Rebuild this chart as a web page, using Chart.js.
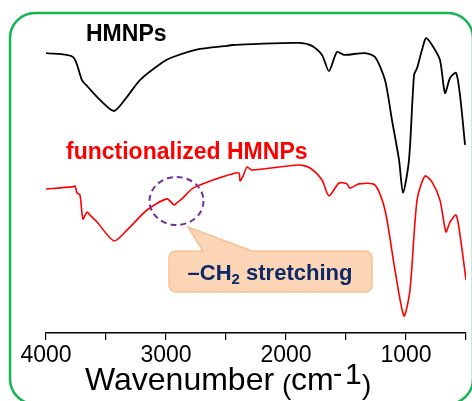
<!DOCTYPE html>
<html>
<head>
<meta charset="utf-8">
<script src="https://cdn.jsdelivr.net/npm/chart.js@4"></script>
<style>
  html, body { margin: 0; padding: 0; background: #fff; }
  #wrap { width: 472px; height: 401px; }
</style>
</head>
<body>
<div id="wrap"><canvas id="grafico"></canvas></div>
<script>
// espectros FTIR (transmitancia en unidades arbitrarias)
const numOndaHMNP = [4000, 3775, 3700, 3650, 3550, 3433, 3325, 3217, 3025, 2942, 2717, 2492, 2450, 2283, 1892, 1783, 1700, 1642, 1575, 1517, 1342, 1258, 1175, 1117, 1058, 1025, 975, 933, 908, 867, 833, 783, 717, 675, 633, 583, 550, 508];
const transHMNP = [93.3, 92.0, 84.3, 82.0, 77.7, 74.0, 78.7, 84.3, 90.3, 92.0, 94.7, 95.7, 96.0, 96.3, 96.7, 95.7, 92.7, 87.3, 93.7, 92.7, 93.3, 92.0, 84.3, 71.0, 57.7, 46.7, 57.7, 86.0, 88.3, 94.3, 98.3, 96.0, 91.0, 80.0, 85.0, 86.7, 79.3, 62.7];

const numOndaFunc = [4000, 3783, 3758, 3742, 3717, 3692, 3658, 3633, 3575, 3433, 3325, 3158, 2992, 2933, 2900, 2867, 2775, 2608, 2450, 2392, 2383, 2358, 2325, 2283, 1892, 1800, 1700, 1642, 1558, 1492, 1467, 1392, 1258, 1175, 1092, 1017, 967, 908, 842, 783, 717, 667, 633, 583, 550, 500];
const transFunc = [48.0, 48.7, 49.0, 46.7, 46.0, 38.0, 40.3, 39.3, 37.0, 30.7, 34.3, 41.0, 44.7, 42.7, 43.7, 44.7, 48.3, 51.0, 53.0, 53.3, 50.7, 52.3, 55.3, 54.3, 56.0, 55.0, 51.0, 45.7, 50.0, 49.7, 48.3, 49.7, 49.3, 41.0, 21.0, 5.7, 14.3, 44.3, 52.3, 50.3, 44.3, 33.7, 37.0, 39.3, 32.7, 17.7];

const marcasX = [4000, 3000, 2000, 1000];

function aPuntos(xs, ys) {
  return xs.map((x, i) => ({ x: x, y: ys[i] }));
}

function rectRedondo(ctx, x, y, w, h, r) {
  ctx.beginPath();
  ctx.moveTo(x + r, y);
  ctx.lineTo(x + w - r, y);
  ctx.arcTo(x + w, y, x + w, y + r, r);
  ctx.lineTo(x + w, y + h - r);
  ctx.arcTo(x + w, y + h, x + w - r, y + h, r);
  ctx.lineTo(x + r, y + h);
  ctx.arcTo(x, y + h, x, y + h - r, r);
  ctx.lineTo(x, y + r);
  ctx.arcTo(x, y, x + r, y, r);
  ctx.closePath();
}

const FUENTE = '"Liberation Sans", Arial, sans-serif';

const adornos = {
  id: 'adornos',
  beforeDraw(chart) {
    const ctx = chart.ctx;
    ctx.save();
    ctx.fillStyle = '#fff';
    ctx.fillRect(0, 0, chart.width, chart.height);
    ctx.restore();
  },
  afterDraw(chart) {
    const ctx = chart.ctx;
    ctx.save();

    // marco verde
    ctx.strokeStyle = '#16b452';
    ctx.lineWidth = 2.5;
    rectRedondo(ctx, 10, 13, 463, 391, 25);
    ctx.stroke();

    // etiquetas de las curvas
    ctx.textBaseline = 'alphabetic';
    ctx.textAlign = 'left';
    ctx.font = 'bold 23px ' + FUENTE;
    ctx.fillStyle = '#000';
    ctx.fillText('HMNPs', 86, 41);
    ctx.fillStyle = '#ff0000';
    ctx.fillText('functionalized HMNPs', 66, 159);

    // circulo discontinuo
    ctx.strokeStyle = '#7030a0';
    ctx.lineWidth = 2;
    ctx.setLineDash([6, 4]);
    ctx.beginPath();
    ctx.ellipse(176.5, 201, 27, 24, 0, 0, Math.PI * 2);
    ctx.stroke();
    ctx.setLineDash([]);

    // globo del comentario
    ctx.fillStyle = '#fbd5b5';
    ctx.strokeStyle = '#f7c196';
    ctx.lineWidth = 1.5;
    ctx.beginPath();
    const bx = 169, by = 251, bw = 203, bh = 41, br = 7;
    ctx.moveTo(bx + br, by);
    ctx.lineTo(203, by);
    ctx.lineTo(188, 227);
    ctx.lineTo(252, by);
    ctx.lineTo(bx + bw - br, by);
    ctx.arcTo(bx + bw, by, bx + bw, by + br, br);
    ctx.lineTo(bx + bw, by + bh - br);
    ctx.arcTo(bx + bw, by + bh, bx + bw - br, by + bh, br);
    ctx.lineTo(bx + br, by + bh);
    ctx.arcTo(bx, by + bh, bx, by + bh - br, br);
    ctx.lineTo(bx, by + br);
    ctx.arcTo(bx, by, bx + br, by, br);
    ctx.closePath();
    ctx.fill();
    ctx.stroke();

    ctx.fillStyle = '#0d2a66';
    const fGrande = 'bold 22px ' + FUENTE;
    const fSub = 'bold 15px ' + FUENTE;
    ctx.font = fGrande;
    const w1 = ctx.measureText('\u2013CH').width;
    const w3 = ctx.measureText(' stretching').width;
    ctx.font = fSub;
    const w2 = ctx.measureText('2').width;
    let tx = 270 - (w1 + w2 + w3) / 2;
    const ty = 280;
    ctx.font = fGrande;
    ctx.fillText('\u2013CH', tx, ty);
    tx += w1;
    ctx.font = fSub;
    ctx.fillText('2', tx, ty + 4);
    tx += w2;
    ctx.font = fGrande;
    ctx.fillText(' stretching', tx, ty);

    // titulo del eje x con superindice
    ctx.fillStyle = '#000';
    ctx.font = '32px ' + FUENTE;
    ctx.fillText('Wavenumber', 85, 390);
    ctx.font = '28px ' + FUENTE;
    ctx.fillText('(', 282, 394);
    ctx.font = '32px ' + FUENTE;
    ctx.fillText('cm', 291, 390);
    ctx.font = '28px ' + FUENTE;
    ctx.fillText('-', 333, 382);
    ctx.font = '30px ' + FUENTE;
    ctx.fillText('1', 345, 384);
    ctx.font = '28px ' + FUENTE;
    ctx.fillText(')', 362, 394);

    ctx.restore();
  }
};

const ctx = document.getElementById('grafico').getContext('2d');
new Chart(ctx, {
  type: 'scatter',
  data: {
    datasets: [
      {
        label: 'HMNPs',
        data: aPuntos(numOndaHMNP, transHMNP),
        showLine: true,
        borderColor: '#000',
        borderWidth: 1.8,
        pointRadius: 0,
        tension: 0.25
      },
      {
        label: 'functionalized HMNPs',
        data: aPuntos(numOndaFunc, transFunc),
        showLine: true,
        borderColor: '#ff0000',
        borderWidth: 1.6,
        pointRadius: 0,
        tension: 0.25
      }
    ]
  },
  options: {
    responsive: true,
    maintainAspectRatio: false,
    animation: false,
    layout: { padding: { left: 46, right: 6, top: 33, bottom: 0 } },
    plugins: {
      legend: { display: false },
      tooltip: { enabled: false }
    },
    scales: {
      x: {
        type: 'linear',
        reverse: true,
        min: 500,
        max: 4000,
        afterFit: (scale) => { scale.height = 68; },
        afterBuildTicks: (scale) => {
          const t = [];
          for (let v = 500; v <= 4000; v += 500) t.push({ value: v });
          scale.ticks = t;
        },
        border: { display: true, color: '#000', width: 1.5 },
        grid: { drawOnChartArea: false, color: '#000', tickLength: 7, lineWidth: 1.2 },
        ticks: {
          color: '#000',
          padding: 2,
          maxRotation: 0,
          autoSkip: false,
          font: { size: 23, family: FUENTE },
          callback: (v) => marcasX.includes(v) ? String(v) : ''
        }
      },
      y: {
        display: false,
        min: 0,
        max: 100
      }
    }
  },
  plugins: [adornos]
});
</script>
</body>
</html>
